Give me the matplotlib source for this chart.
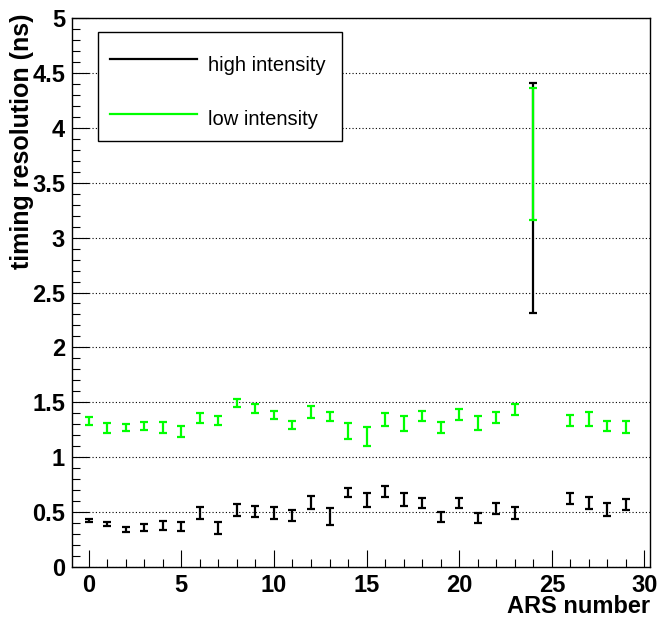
import matplotlib
matplotlib.use("Agg")
import matplotlib.pyplot as plt
from matplotlib.ticker import MultipleLocator, FuncFormatter
from matplotlib.lines import Line2D
from matplotlib.patches import Rectangle

plt.rcParams['font.family'] = ['Liberation Sans', 'DejaVu Sans']

# ARS channel numbers
ars_high = [0, 1, 2, 3, 4, 5, 6, 7, 8, 9, 10, 11, 12, 13, 14, 15, 16, 17, 18, 19,
            20, 21, 22, 23, 24, 26, 27, 28, 29]
ars_low = list(ars_high)

# high intensity timing resolution (ns) and errors
res_high = [0.424, 0.393, 0.341, 0.362, 0.375, 0.372, 0.494, 0.359, 0.518, 0.506,
            0.494, 0.469, 0.589, 0.457, 0.680, 0.610, 0.690, 0.616, 0.580, 0.454,
            0.583, 0.448, 0.534, 0.491, 3.358, 0.622, 0.583, 0.524, 0.570]
err_high = [0.017, 0.020, 0.020, 0.030, 0.040, 0.040, 0.057, 0.055, 0.052, 0.053,
            0.053, 0.052, 0.057, 0.076, 0.043, 0.060, 0.050, 0.057, 0.046, 0.046,
            0.044, 0.046, 0.047, 0.058, 1.047, 0.050, 0.058, 0.058, 0.053]

# low intensity timing resolution (ns) and errors
res_low = [1.329, 1.268, 1.271, 1.286, 1.268, 1.234, 1.359, 1.335, 1.497, 1.445,
           1.387, 1.292, 1.411, 1.372, 1.240, 1.191, 1.344, 1.304, 1.378, 1.271,
           1.387, 1.310, 1.365, 1.433, 3.763, 1.335, 1.347, 1.286, 1.277]
err_low = [0.038, 0.046, 0.034, 0.038, 0.050, 0.046, 0.047, 0.041, 0.037, 0.038,
           0.035, 0.034, 0.055, 0.044, 0.073, 0.086, 0.061, 0.069, 0.047, 0.047,
           0.052, 0.061, 0.050, 0.049, 0.602, 0.047, 0.061, 0.046, 0.053]

labels = ["high intensity", "low intensity"]
colors = ["black", "#00ff00"]

fig = plt.figure(figsize=(6.58, 6.18), dpi=100)
ax = fig.add_axes([72/658, 51/618, 578/658, 549/618])

ax.errorbar(ars_high, res_high, yerr=err_high, fmt='none', ecolor=colors[0],
            elinewidth=1.6, capsize=3, capthick=1.6, zorder=3)
ax.errorbar(ars_low, res_low, yerr=err_low, fmt='none', ecolor=colors[1],
            elinewidth=1.6, capsize=3, capthick=1.6, zorder=4)

ax.set_xlim(-0.9, 30.3)
ax.set_ylim(0, 5)

ax.xaxis.set_major_locator(MultipleLocator(5))
ax.xaxis.set_minor_locator(MultipleLocator(1))
ax.yaxis.set_major_locator(MultipleLocator(0.5))
ax.yaxis.set_minor_locator(MultipleLocator(0.1))

ax.yaxis.grid(True, which='major', linestyle=(0, (1, 2)), color='black', linewidth=0.8)
ax.set_axisbelow(True)

ax.tick_params(axis='both', which='both', direction='in', top=False, right=False,
               color='black', width=0.8)
ax.tick_params(axis='both', which='major', length=12, labelsize=17, pad=5)
ax.tick_params(axis='both', which='minor', length=6)
ax.tick_params(axis='y', which='major', pad=5)

ax.yaxis.set_major_formatter(FuncFormatter(lambda v, p: f"{v:g}"))
for lab in ax.get_xticklabels() + ax.get_yticklabels():
    lab.set_fontweight('bold')

for s in ax.spines.values():
    s.set_linewidth(1.0)
    s.set_color('black')

ax.set_xlabel("ARS number", fontsize=17, fontweight='bold', loc='right')
ax.xaxis.set_label_coords(1.0, -0.051)
ax.set_ylabel("timing resolution (ns)", fontsize=18, fontweight='bold', loc='top')
ax.yaxis.set_label_coords(-0.066, 1.008)

# legend frame
ax.add_patch(Rectangle((26/578, 426/549), 244/578, 109/549, transform=ax.transAxes,
                       facecolor='white', edgecolor='black', linewidth=1.0,
                       zorder=5, clip_on=False))
handles = [Line2D([], [], color=c, linewidth=1.6) for c in colors]
leg = ax.legend(handles, labels, loc='upper left',
                bbox_to_anchor=(38/578, 519/549),
                borderaxespad=0, fontsize=14.5, frameon=False,
                handlelength=4.3, handletextpad=0.55, handleheight=2.1,
                labelspacing=1.1, borderpad=0)
leg.set_zorder(6)

fig.savefig("out.png", dpi=100)
